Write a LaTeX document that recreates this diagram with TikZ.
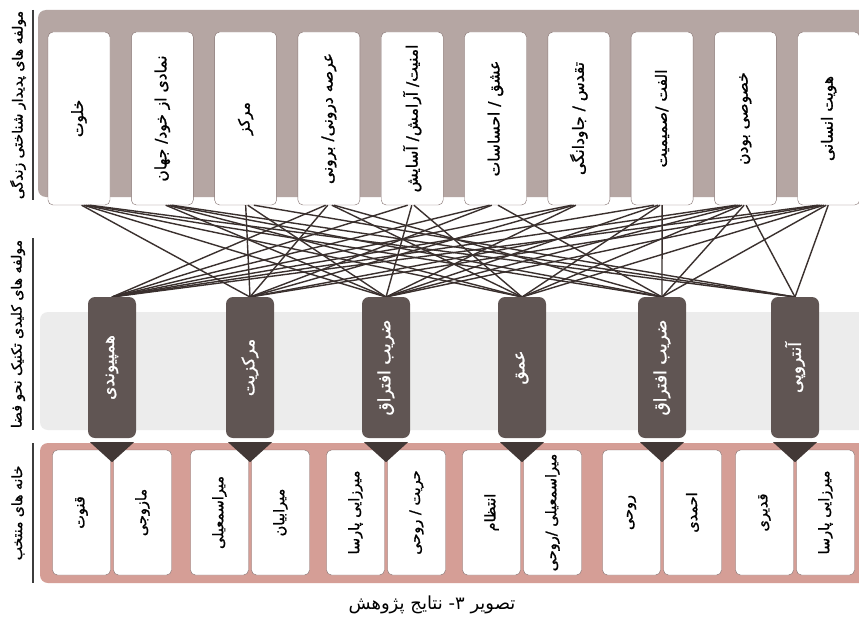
\documentclass[tikz,border=0pt]{standalone}
\usepackage{fontspec}
\usepackage{graphicx}
\TeXXeTstate=1
\newfontfamily\fafont[Script=Arabic]{DejaVu Sans}
\newfontfamily\fabold[Script=Arabic,FakeBold=1.2]{DejaVu Sans}
\usetikzlibrary{positioning,calc}
\definecolor{topmauve}{RGB}{181,166,163}
\definecolor{boxline}{RGB}{128,110,108}
\definecolor{pillbrown}{RGB}{96,85,83}
\definecolor{tipbrown}{RGB}{66,56,54}
\definecolor{botpink}{RGB}{213,158,150}
\definecolor{bandgray}{RGB}{236,236,236}
\definecolor{linkbrown}{RGB}{58,48,46}
\definecolor{rulegray}{RGB}{60,60,60}
\newcommand{\vfa}[1]{\rotatebox{90}{\fabold\beginR #1\endR}}
\tikzset{
  panel/.style   = { rounded corners=8pt },
  topbox/.style  = { draw=boxline, fill=white, rounded corners=5pt, inner sep=0pt,
    minimum width=62pt, minimum height=173pt, font=\fontsize{15.5}{18}\selectfont },
  pill/.style    = { fill=pillbrown, rounded corners=7pt, inner sep=0pt, text=white,
    minimum width=48pt, minimum height=141pt, font=\fontsize{17}{20}\selectfont },
  botbox/.style  = { draw=boxline, fill=white, rounded corners=5pt, inner sep=0pt,
    minimum width=58pt, minimum height=125pt, font=\fontsize{14.5}{17}\selectfont },
  sidelbl/.style = { inner sep=0pt, font=\fontsize{14}{16}\selectfont },
  link/.style    = { draw=linkbrown, line width=1.4pt }
}
\begin{document}
\begin{tikzpicture}[x=1pt,y=-1pt]
  \useasboundingbox (0,0) rectangle (859,626);
  \clip (0,0) rectangle (859,626);
  \fill[white] (0,0) rectangle (859,626);
  % panels
  \fill[panel, topmauve] (38,10) rectangle (870,197);
  \fill[panel, bandgray] (40,312) rectangle (870,430);
  % side labels
  \draw[rulegray, line width=2.5pt] (33,10) -- (33,200);
  \draw[rulegray, line width=2.5pt] (33,238) -- (33,430);
  \draw[rulegray, line width=2.5pt] (33,443) -- (33,583);
  \node[sidelbl] (s1) at (18,105) {\vfa{مولفه های پدیدار شناختی زندگی}};
  \node[sidelbl] (s2) at (18,334) {\vfa{مولفه های کلیدی تکنیک نحو فضا}};
  \node[sidelbl] (s3) at (18,513) {\vfa{خانه های منتخب}};
  % top boxes
  \foreach \lbl [count=\i] in {{خلوت},{نمادی از خود/ جهان},{مرکز},{عرصه درونی/ برونی},
      {امنیت/ آرامش/ آسایش},{عشق / احساسات},{تقدس / جاودانگی},{الفت /صمیمیت},
      {خصوصی بودن},{هویت انسانی}}
    \node[topbox] (t\i) at ({79+83.3*(\i-1)},118.5) {\vfa{\lbl}};
  % pills
  \foreach \cx [count=\j] in {112,250,386,522,662,795}
    \coordinate (c\j) at (\cx,367.5);
  % links
  \foreach \i/\js in {1/{2,3,4,5,6},2/{3,4,5,6},3/{2,3,6},4/{1,2,4,5},5/{1,3,4},
      6/{1,2,5},7/{1,2,3},8/{1,3,4,5},9/{1,2,3,4,5,6},10/{1,2,3,4,5,6}}
    \foreach \j in \js
      \path[link] ($(t\i.south)!0.015!(t\i.south -| c\j)$) -- ($(c\j)+(0,-70.5)$);
  \foreach \cx/\lbl [count=\j] in {112/همپیوندی,250/مرکزیت,386/ضریب افتراق,
      522/عمق,662/ضریب افتراق,795/آنتروپی}
    \node[pill] (p\j) at (c\j) {\vfa{\lbl}};
  % bottom
  \fill[panel, botpink] (40,443) rectangle (870,583);
  \foreach \cx/\la/\lb [count=\j] in {112/{قنوت}/{مازوجی},250/{میراسمعیلی}/{میرابیان},
      386/{میرزایی پارسا}/{حریت / روحی},522/{انتظام}/{میراسمعیلی /روحی},
      662/{روحی}/{احمدی},795/{قدیری}/{میرزایی پارسا}}
  {
    \node[botbox] (bl\j) at (\cx-30.5,512.5) {\vfa{\la}};
    \node[botbox] (br\j) at (\cx+30.5,512.5) {\vfa{\lb}};
    \fill[tipbrown] ($(p\j.south)+(-22,4)$) -- ($(p\j.south)+(22,4)$)
      -- ($(p\j.south)+(0,24)$) -- cycle;
  }
  % caption
  \node (cap) at (432,605) {\fontsize{18}{21}\selectfont\fafont\beginR تصویر ۳- نتایج پژوهش\endR};
\end{tikzpicture}
\end{document}
